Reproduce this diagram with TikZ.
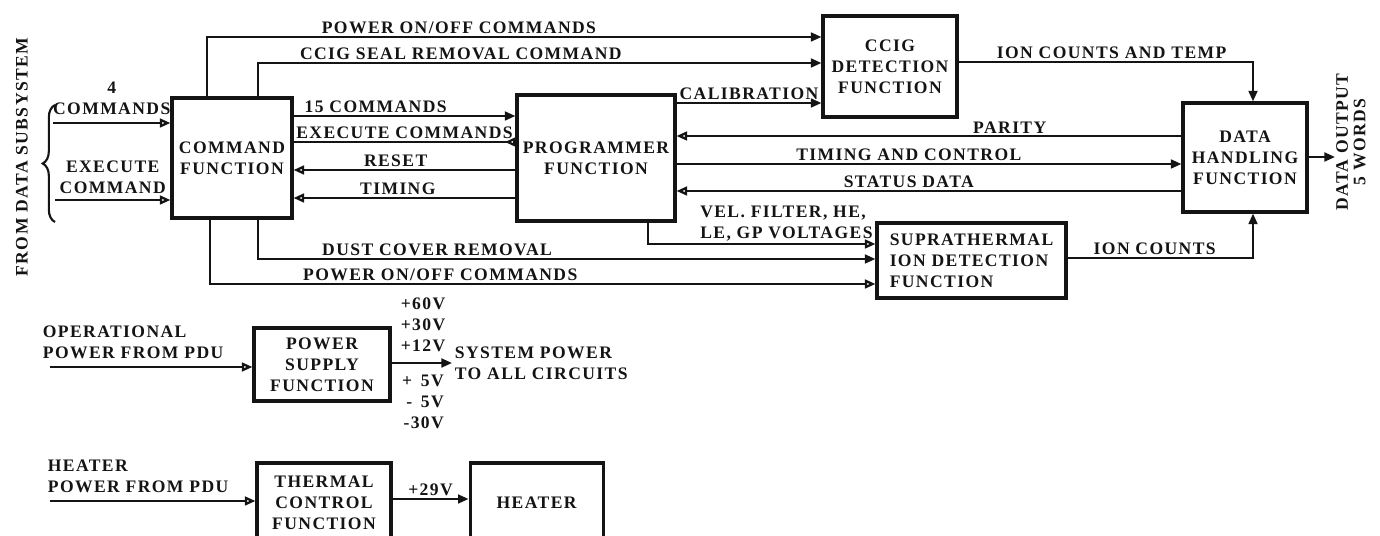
\documentclass[tikz,border=0pt]{standalone}
\usepackage{fontspec}
\setmainfont{Liberation Serif}[LetterSpace=8]
\usepackage{xcolor}
\usetikzlibrary{arrows.meta, positioning, calc, decorations.pathreplacing}
\definecolor{ink}{HTML}{141414}
\tikzset{
  blk/.style={rectangle, draw=ink, line width=1.8pt, align=center, text=ink, font=\fontsize{10}{12}\selectfont\bfseries, inner sep=2pt},
  lab/.style={font=\fontsize{10}{12}\selectfont\bfseries, text=ink, inner sep=1pt},
  arr/.style={-{Triangle[length=6pt, width=5pt]}, line width=1.3pt, draw=ink},
  arro/.style={-{Triangle[open, length=6pt, width=5pt]}, line width=1.3pt, draw=ink},
  arrb/.style={-{Triangle[open, reversed, length=6pt, width=5pt]}, line width=1.3pt, draw=ink},
  brc/.style={decorate, decoration={brace, amplitude=7pt}, line width=1.2pt, draw=ink},
}
\begin{document}
\begin{tikzpicture}[x=0.02cm, y=-0.02cm]
  \useasboundingbox (0,0) rectangle (1380,536);
  \fill[white] (0,0) rectangle (1380,536);
  \clip (0,0) rectangle (1380,536);
  % function blocks
  \node[blk, minimum width=2.4cm, minimum height=2.4cm] (cmd) at (232,158) {COMMAND\\FUNCTION};
  \node[blk, minimum width=3.16cm, minimum height=2.52cm] (prog) at (596,158) {PROGRAMMER\\FUNCTION};
  \node[blk, minimum width=2.68cm, minimum height=2.02cm] (ccig) at (890,66.5) {CCIG\\DETECTION\\FUNCTION};
  \node[blk, minimum width=2.48cm, minimum height=2.18cm] (dh) at (1245,157.5) {DATA\\HANDLING\\FUNCTION};
  \node[blk, minimum width=3.78cm, minimum height=1.5cm, align=left] (supra) at (971.5,260.5) {SUPRATHERMAL\\ION DETECTION\\FUNCTION};
  \node[blk, minimum width=2.72cm, minimum height=1.46cm] (ps) at (322,364.5) {POWER\\SUPPLY\\FUNCTION};
  \node[blk, minimum width=2.68cm, minimum height=1.6cm] (tc) at (324,503) {THERMAL\\CONTROL\\FUNCTION};
  \node[blk, minimum width=2.66cm, minimum height=1.6cm, right=1.52cm of tc] (heater) {HEATER};
  % inputs from data subsystem
  \node[lab, rotate=90] (dsub) at (22,157) {FROM DATA SUBSYSTEM};
  \draw[brc] (55,222) -- (55,105);
  \coordinate (cmdin) at (53,123);
  \coordinate (exein) at (55,200);
  \draw[arro] (cmdin) -- (cmdin -| cmd.west) node[lab, above, align=center, midway, yshift=3pt] {4\\COMMANDS};
  \draw[arro] (exein) -- (exein -| cmd.west) node[lab, above, align=center, midway, yshift=2pt] {EXECUTE\\COMMAND};
  % command function outputs
  \draw[arr] ($(cmd.north)+(-25,0)$) |- (ccig.west |- 0,37) node[lab, above, pos=0.705] {POWER ON/OFF COMMANDS};
  \draw[arr] ($(cmd.north)+(26,0)$) |- (ccig.west |- 0,63) node[lab, above, pos=0.68] {CCIG SEAL REMOVAL COMMAND};
  \draw[arr] (cmd.east |- 0,116) -- (prog.west |- 0,116) node[lab, above, pos=0.37] {15 COMMANDS};
  \draw[arrb] (cmd.east |- 0,142) -- (prog.west |- 0,142) node[lab, above, midway] {EXECUTE COMMANDS};
  \draw[arro] (prog.west |- 0,170) -- (cmd.east |- 0,170) node[lab, above, pos=0.54] {RESET};
  \draw[arro] (prog.west |- 0,198) -- (cmd.east |- 0,198) node[lab, above, pos=0.53] {TIMING};
  \draw[arr] ($(cmd.south)+(26,0)$) |- (supra.west |- 0,259) node[lab, above, pos=0.645] {DUST COVER REMOVAL};
  \draw[arro] ($(cmd.south)+(-22,0)$) |- (supra.west |- 0,284) node[lab, above, pos=0.673] {POWER ON/OFF COMMANDS};
  % programmer links
  \draw[arr] (prog.east |- 0,103) -- (ccig.west |- 0,103) node[lab, above, midway] {CALIBRATION};
  \draw[arro] (dh.west |- 0,136) -- (prog.east |- 0,136) node[lab, above, pos=0.34] {PARITY};
  \draw[arr] (prog.east |- 0,164) -- (dh.west |- 0,164) node[lab, above, pos=0.46] {TIMING AND CONTROL};
  \draw[arro] (dh.west |- 0,191) -- (prog.east |- 0,191) node[lab, above, pos=0.54] {STATUS DATA};
  \draw[arro] ($(prog.south)+(52,0)$) |- (supra.west |- 0,244) node[lab, above left, align=left, pos=1] {VEL. FILTER, HE,\\LE, GP VOLTAGES};
  % detector data
  \draw[arr] (ccig.east |- 0,62) -| ($(dh.north)+(8,0)$) node[lab, above, pos=0.26] {ION COUNTS AND TEMP};
  \draw[arr] (supra.east |- 0,258) -| ($(dh.south)+(8,0)$) node[lab, above, pos=0.235] {ION COUNTS};
  \coordinate (out) at (1335,157);
  \draw[arr] (dh.east |- out) -- (out);
  \node[lab, rotate=90, align=center, font=\fontsize{10}{10}\selectfont\bfseries] (outlab) at (1351,142) {DATA OUTPUT\\5 WORDS};
  % power supply
  \coordinate (opin) at (50,367);
  \draw[arro] (opin) -- (opin -| ps.west) node[lab, above right, align=left, pos=0, xshift=-0.2cm, yshift=3pt] {OPERATIONAL\\POWER FROM PDU};
  \coordinate (sysout) at (452,363);
  \draw[arr] (ps.east |- sysout) -- (sysout) node[lab, right, align=left] {SYSTEM POWER\\TO ALL CIRCUITS};
  \node[lab, align=right, anchor=south] (vhi) at (423,354) {+60V\\+30V\\+12V};
  \node[lab, align=right, anchor=north] (vlo) at (423,373) {+\hphantom{0}5V\\-\hphantom{0}5V\\-30V};
  % heater
  \coordinate (htin) at (50,501);
  \draw[arro] (htin) -- (htin -| tc.west) node[lab, above right, align=left, pos=0, xshift=-0.1cm, yshift=3pt] {HEATER\\POWER FROM PDU};
  \draw[arr] (tc.east |- 0,499) -- (heater.west |- 0,499) node[lab, above, midway] {+29V};
\end{tikzpicture}
\end{document}
